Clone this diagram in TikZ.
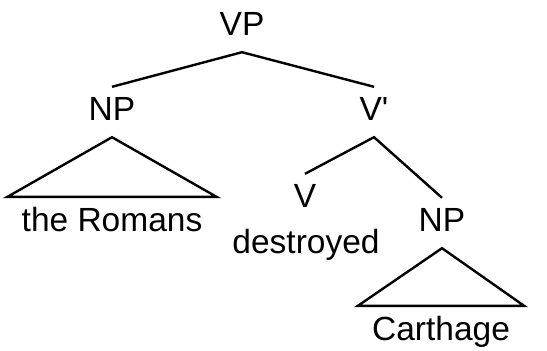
\documentclass[tikz,border=0pt]{standalone}
\usepackage{fontspec}
\setmainfont{Liberation Sans}
\begin{document}
\begin{tikzpicture}[x=1pt,y=-1pt,
  cat/.style={font=\fontsize{33.5}{36}\selectfont,inner xsep=0pt,inner ysep=9pt,
    text height=24pt,text depth=8pt,anchor=base},
  leaf/.style={cat,inner xsep=14pt,inner ysep=10pt},
  edge/.style={line width=2.4pt}]
\useasboundingbox (0,0) rectangle (547,351);
% categories
\node[cat] (vp) at (242,35) {VP};
\node[cat] (np1) at (112,120) {NP};
\node[cat] (vbar) at (374,120) {V\textquotesingle};
\node[cat] (v) at (305,207) {V};
\node[cat] (np2) at (442,231) {NP};
% words
\node[leaf] (romans) at (112,231) {the Romans};
\node[cat] (destroyed) at (306,253) {destroyed};
\node[leaf] (carthage) at (441,340) {Carthage};
% branches
\draw[edge] (np1.north) -- (vp.south) -- (vbar.north);
\draw[edge] (v.north) -- (vbar.south) -- (np2.north);
% triangles
\draw[edge] (np1.south) -- (romans.north west) -- (romans.north east) -- cycle;
\draw[edge] (np2.south) -- (carthage.north west) -- (carthage.north east) -- cycle;
\end{tikzpicture}
\end{document}
